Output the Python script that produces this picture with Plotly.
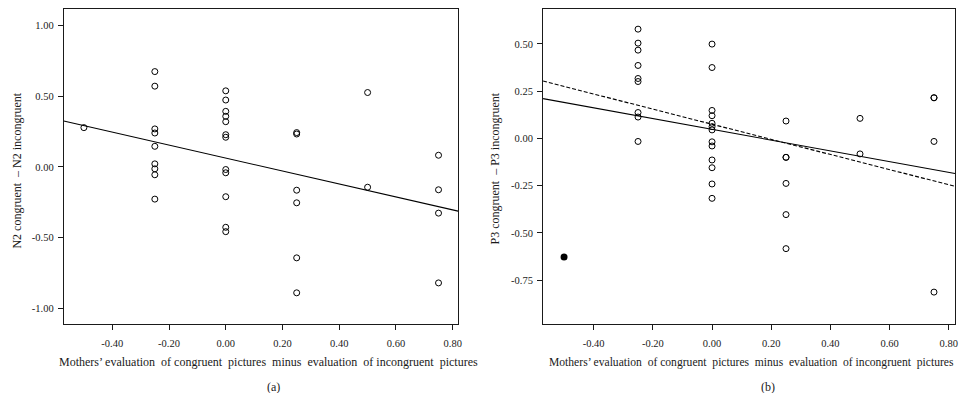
import plotly.graph_objects as go

# ---- data ----
a_x = [-0.5] + [-0.25]*9 + [0.0]*12 + [0.25]*6 + [0.5]*2 + [0.75]*4
a_y = [0.277,
       0.673, 0.570, 0.268, 0.239, 0.145, 0.021, -0.014, -0.056, -0.228,
       0.537, 0.472, 0.392, 0.357, 0.319, 0.227, 0.209, -0.019, -0.042, -0.211, -0.427, -0.458,
       0.242, 0.232, -0.165, -0.254, -0.643, -0.890,
       0.525, -0.144,
       0.082, -0.162, -0.327, -0.820]
a_fit = (0.062, -0.458)   # intercept, slope

b_x = [-0.25]*9 + [0.0]*13 + [0.25]*6 + [0.5]*2 + [0.75]*4
b_y = [0.578, 0.504, 0.467, 0.386, 0.317, 0.301, 0.137, 0.113, -0.016,
       0.499, 0.375, 0.148, 0.120, 0.080, 0.062, 0.045, -0.018, -0.040, -0.114, -0.155, -0.241, -0.317,
       0.092, -0.100, -0.100, -0.238, -0.403, -0.583,
       0.106, -0.082,
       0.215, 0.215, -0.016, -0.813]
b_outlier_x = [-0.5]
b_outlier_y = [-0.627]
b_fit_all = (0.048, -0.285)
b_fit_excl = (0.075, -0.400)

xticks = [-0.4, -0.2, 0.0, 0.2, 0.4, 0.6, 0.8]
xticklabels = ["-0.40", "-0.20", "0.00", "0.20", "0.40", "0.60", "0.80"]
a_yticks = [1.0, 0.5, 0.0, -0.5, -1.0]
a_yticklabels = ["1.00", "0.50", "0.00", "-0.50", "-1.00"]
b_yticks = [0.5, 0.25, 0.0, -0.25, -0.5, -0.75]
b_yticklabels = ["0.50", "0.25", "0.00", "-0.25", "-0.50", "-0.75"]

a_xrange = [-0.571, 0.819]
a_yrange = [-1.108, 1.113]
b_xrange = [-0.571, 0.821]
b_yrange = [-0.980, 0.683]

FONT = "Liberation Serif"
INK = "#1a1a1a"
fig = go.Figure()

mk = dict(symbol="circle-open", size=6, color="black", line=dict(width=1, color="black"))

def line_pts(fit, rng):
    return [rng[0], rng[1]], [fit[0] + fit[1]*rng[0], fit[0] + fit[1]*rng[1]]

lx, ly = line_pts(a_fit, a_xrange)
fig.add_trace(go.Scatter(x=lx, y=ly, mode="lines", line=dict(color="black", width=1.1),
                         xaxis="x", yaxis="y", showlegend=False))
fig.add_trace(go.Scatter(x=a_x, y=a_y, mode="markers", marker=mk, xaxis="x", yaxis="y", showlegend=False))

lx, ly = line_pts(b_fit_all, b_xrange)
fig.add_trace(go.Scatter(x=lx, y=ly, mode="lines", line=dict(color="black", width=1.1),
                         xaxis="x2", yaxis="y2", showlegend=False))
lx, ly = line_pts(b_fit_excl, b_xrange)
fig.add_trace(go.Scatter(x=lx, y=ly, mode="lines", line=dict(color="black", width=1.1, dash="4px,2px"),
                         xaxis="x2", yaxis="y2", showlegend=False))
fig.add_trace(go.Scatter(x=b_x, y=b_y, mode="markers", marker=mk, xaxis="x2", yaxis="y2", showlegend=False))
fig.add_trace(go.Scatter(x=b_outlier_x, y=b_outlier_y, mode="markers",
                         marker=dict(symbol="circle", size=7, color="black"),
                         xaxis="x2", yaxis="y2", showlegend=False))

# page has an 8px body margin on every side: shift everything so it lands at the
# reference pixel positions and keep the page inside the window (no scrollbars)
OX, OY = 8, 8
W, H = 968 - 2*OX, 401 - 2*OY

def px(x):
    return (x - OX) / W

def py(y):
    return 1 - (y - OY) / H

ydom = [py(323.5), py(8.3)]

def xax(dom, rng, anchor):
    return dict(domain=dom, range=rng, anchor=anchor, tickvals=xticks, ticktext=xticklabels,
                ticks="outside", ticklen=5, tickcolor=INK, showline=True, linecolor=INK,
                linewidth=1, mirror=True, showgrid=False, zeroline=False,
                tickfont=dict(family=FONT, size=10.5, color=INK), ticklabelstandoff=5)

def yax(dom, rng, anchor, tv, tt):
    return dict(domain=dom, range=rng, anchor=anchor, tickvals=tv, ticktext=tt,
                ticks="outside", ticklen=5, tickcolor=INK, showline=True, linecolor=INK,
                linewidth=1, mirror=True, showgrid=False, zeroline=False,
                tickfont=dict(family=FONT, size=10.5, color=INK), ticklabelstandoff=2)

NB = "\u00a0"
xtitle = ("Mothers\u2019 evaluation" + NB + " of congruent" + NB + " pictures" + NB + " minus" + NB +
          " evaluation" + NB + " of incongruent" + NB + " pictures")

def ann(text, x, y, angle=0, size=12):
    return dict(text=text, x=px(x), y=py(y), xref="paper", yref="paper", showarrow=False,
                textangle=angle, xanchor="center", yanchor="middle",
                font=dict(family=FONT, size=size, color=INK))

fig.update_layout(
    width=W, height=H, margin=dict(l=0, r=0, t=0, b=0),
    paper_bgcolor="white", plot_bgcolor="white",
    xaxis=xax([px(64), px(460)], a_xrange, "y"),
    yaxis=yax(ydom, a_yrange, "x", a_yticks, a_yticklabels),
    xaxis2=xax([px(545.3), px(959)], b_xrange, "y2"),
    yaxis2=yax(ydom, b_yrange, "x2", b_yticks, b_yticklabels),
    annotations=[
        ann(xtitle, 269.5, 362),
        ann(xtitle, 754.5, 362, size=11.6),
        ann("(a)", 275, 386.5),
        ann("(b)", 771.7, 386.5),
        ann("N2 congruent" + NB + " \u2013 N2 incongruent", 17, 170, -90),
        ann("P3 congruent" + NB + " \u2013 P3 incongruent", 497, 168, -90),
    ],
)

fig.write_html("out.html")
